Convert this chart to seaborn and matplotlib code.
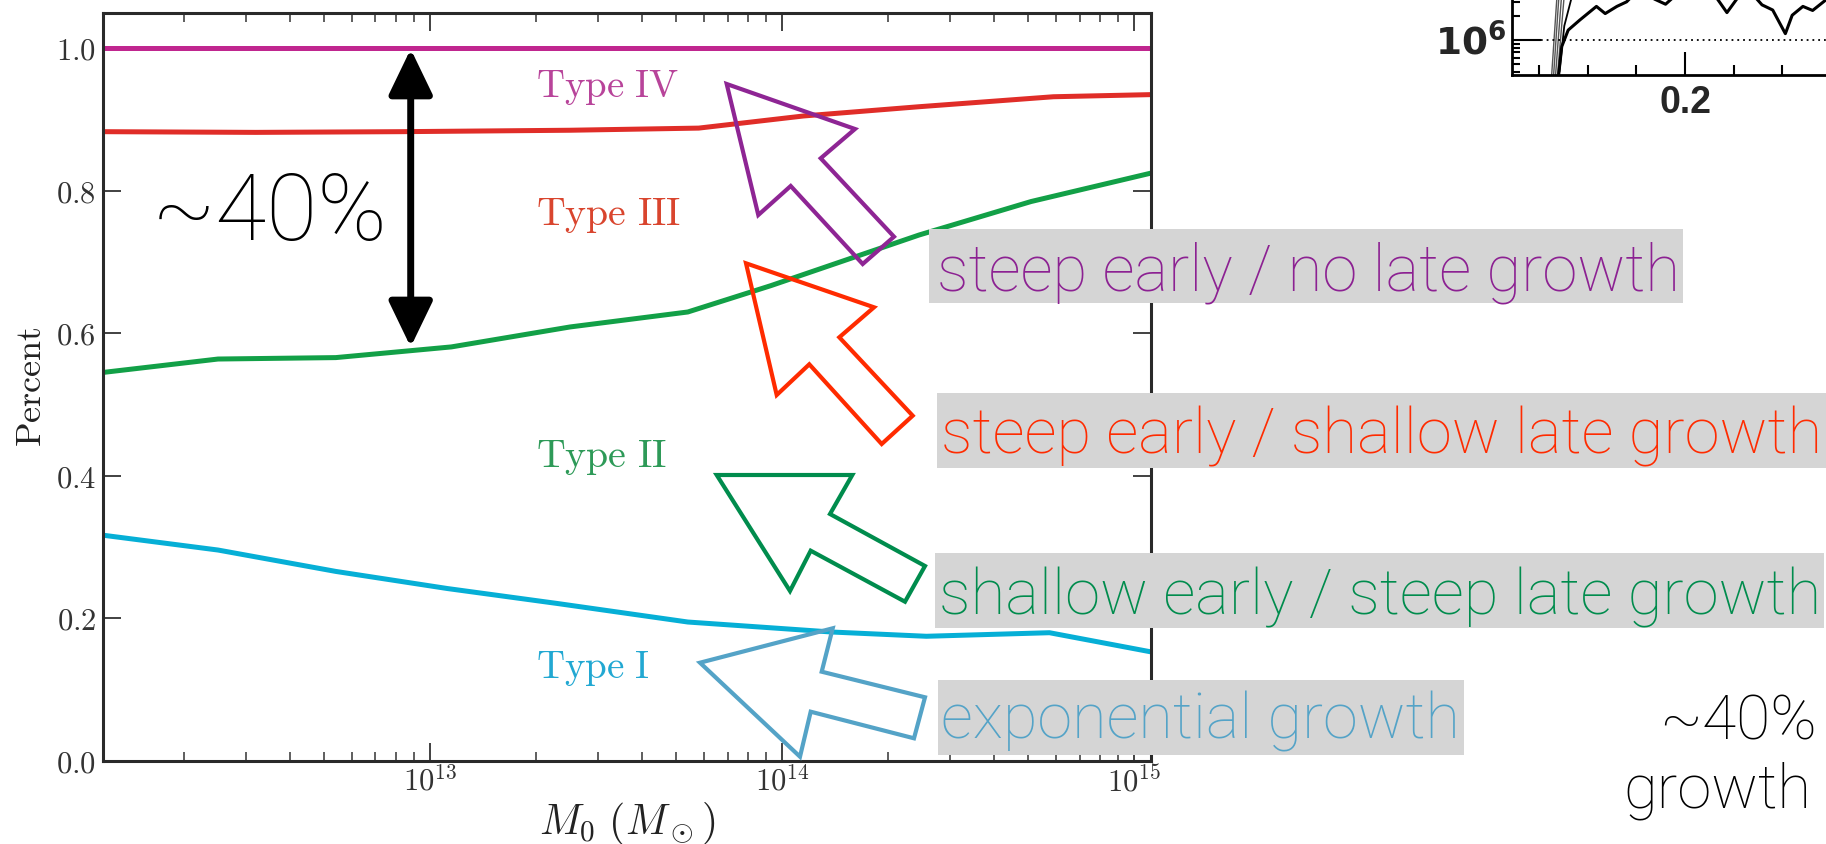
import numpy as np
import pandas as pd
import matplotlib
matplotlib.use("Agg")
import matplotlib.pyplot as plt
import seaborn as sns
from matplotlib.patches import Polygon, Rectangle, FancyArrowPatch
from matplotlib.ticker import FixedLocator, FixedFormatter, LogLocator, NullFormatter, NullLocator, MultipleLocator

# ---------------- data ----------------
# halo mass M0 (Msun) and cumulative fraction boundaries
typeI_M = [1.17e12, 2.5e12, 5.4e12, 1.12e13, 2.3e13, 5.4e13, 1.38e14, 2.57e14, 5.75e14, 1.12e15]
typeI_frac = [0.317, 0.296, 0.266, 0.242, 0.221, 0.195, 0.181, 0.175, 0.180, 0.153]

typeII_M = [1.17e12, 2.5e12, 5.4e12, 1.15e13, 2.5e13, 5.4e13, 9.3e13, 2.45e14, 5.1e14, 1.12e15]
typeII_frac = [0.545, 0.564, 0.566, 0.581, 0.609, 0.630, 0.667, 0.738, 0.785, 0.825]

typeIII_M = [1.17e12, 3.2e12, 8.3e12, 2.5e13, 5.8e13, 1.15e14, 2.45e14, 5.9e14, 1.12e15]
typeIII_frac = [0.883, 0.882, 0.883, 0.885, 0.888, 0.905, 0.918, 0.932, 0.935]

typeIV_M = [1.17e12, 1.12e15]
typeIV_frac = [1.0, 1.0]

type_labels = ["Type IV", "Type III", "Type II", "Type I"]
y_ticks = [0.0, 0.2, 0.4, 0.6, 0.8, 1.0]
y_ticklabels = [r"$0.0$", r"$0.2$", r"$0.4$", r"$0.6$", r"$0.8$", r"$1.0$"]
x_ticks = [1e13, 1e14, 1e15]
x_ticklabels = [r"$10^{13}$", r"$10^{14}$", r"$10^{15}$"]

growth_labels = ["steep early / no late growth",
                 "steep early / shallow late growth",
                 "shallow early / steep late growth",
                 "exponential growth"]

# fragment of a second plot (top right corner)
frag_x = [0.070, 0.0734, 0.080, 0.092, 0.109, 0.118, 0.130, 0.140, 0.150, 0.165, 0.180, 0.190,
          0.205, 0.215, 0.230, 0.243, 0.255, 0.268, 0.279, 0.290, 0.303, 0.310, 0.321, 0.331, 0.345, 0.360]
frag_y = [3.5e5, 8.3e5, 1.33e6, 1.78e6, 2.63e6, 2.14e6, 2.63e6, 3.0e6, 4.0e6, 3.4e6, 2.8e6, 3.6e6,
          3.9e6, 3.3e6, 3.7e6, 2.2e6, 3.5e6, 3.9e6, 2.75e6, 2.37e6, 1.2e6, 2.04e6, 2.63e6, 2.34e6, 3.2e6, 2.9e6]
frag_gray_x = [[0.063, 0.071], [0.065, 0.073], [0.067, 0.076], [0.069, 0.079]]
frag_gray_y = [[3.6e5, 1e7], [3.6e5, 1e7], [3.6e5, 1e7], [3.6e5, 1e7]]
frag_thin_x = [0.071, 0.076, 0.083, 0.092]
frag_thin_y = [4.0e5, 1.5e6, 3.2e6, 8e6]

# ---------------- figure ----------------
W, H = 1826, 844
sns.set_style("ticks")
plt.rcParams["font.family"] = ["DejaVu Sans"]
plt.rcParams["mathtext.fontset"] = "cm"

fig = plt.figure(figsize=(W / 100, H / 100), dpi=100)
fig.patch.set_facecolor("white")


def F(x, y):
    return (x / W, 1 - y / H)


ax = fig.add_axes([103 / W, 1 - 761 / H, (1151 - 103) / W, (761 - 13) / H])

line_colors = {"IV": "#c0268f", "III": "#e02d28", "II": "#12a047", "I": "#06afd6"}
df = pd.concat([
    pd.DataFrame({"M": typeIV_M, "frac": typeIV_frac, "s": "IV"}),
    pd.DataFrame({"M": typeIII_M, "frac": typeIII_frac, "s": "III"}),
    pd.DataFrame({"M": typeII_M, "frac": typeII_frac, "s": "II"}),
    pd.DataFrame({"M": typeI_M, "frac": typeI_frac, "s": "I"}),
])
sns.lineplot(data=df, x="M", y="frac", hue="s", palette=line_colors, ax=ax,
             legend=False, linewidth=3.6, estimator=None, sort=False)
ax.set_xscale("log")
ax.set_xlim(1.178e12, 1.117e15)
ax.set_ylim(0, 1.0495)

ax.xaxis.set_major_locator(FixedLocator(x_ticks))
ax.xaxis.set_major_formatter(FixedFormatter(x_ticklabels))
ax.xaxis.set_minor_locator(LogLocator(base=10, subs=range(2, 10)))
ax.xaxis.set_minor_formatter(NullFormatter())
ax.yaxis.set_major_locator(FixedLocator(y_ticks))
ax.yaxis.set_major_formatter(FixedFormatter(y_ticklabels))
ax.yaxis.set_minor_locator(NullLocator())

ax.tick_params(which="both", direction="in", top=True, right=True, color="#333333",
               labelcolor="#333333")
ax.tick_params(which="major", length=13, width=1.3, labelsize=22)
ax.tick_params(axis="y", which="major", pad=5)
ax.tick_params(axis="x", which="major", pad=3)
ax.tick_params(which="minor", length=6.5, width=1.1)
for sp in ax.spines.values():
    sp.set_linewidth(2.2)
    sp.set_color("#2a2a2a")
    sp.set_visible(True)

ax.set_xlabel(r"$M_0\ (M_\odot)$", fontsize=30, color="#222222", labelpad=2)
ax.set_ylabel(r"$\mathrm{Percent}$", fontsize=26, color="#222222", labelpad=6)

# Type labels (serif, coloured)
type_colors = ["#b8449a", "#d9452e", "#2e9a58", "#22a8d2"]
type_base = [97, 225, 467, 678]
type_w = [143, 145, 131, 114]
type_texts = []
for lab, c, yb in zip(type_labels, type_colors, type_base):
    t = fig.text(*F(536, yb), r"$\mathrm{" + lab.replace(" ", r"\ ") + "}$", color=c,
                 fontsize=29, ha="left", va="baseline")
    type_texts.append(t)

# ---------------- annotations ----------------
# double-headed black arrow
dbl = FancyArrowPatch(F(410.7, 49), F(410.7, 347), transform=fig.transFigure,
                      arrowstyle="<|-|>,head_length=28,head_width=13.5", mutation_scale=1,
                      color="black", linewidth=5, shrinkA=0, shrinkB=0)
fig.add_artist(dbl)

big40 = fig.text(*F(152, 240), "~40%", fontsize=68, family="Roboto", weight="light",
                 color="black", ha="left", va="baseline")

# grey label boxes
box_specs = [(929, 229, 1683, 303), (937, 393, 1826, 468), (935, 553, 1824, 628), (938, 680, 1464, 755)]
for (x0, y0, x1, y1) in box_specs:
    fig.add_artist(Rectangle(F(x0, y1), (x1 - x0) / W, (y1 - y0) / H, transform=fig.transFigure,
                             facecolor="#d5d5d5", edgecolor="none", zorder=2))

lab_colors = ["#8c2192", "#ff2b00", "#008c4d", "#54a3c7"]
lab_pos = [(937, 290), (941, 454), (939, 614), (941, 738)]
lab_w = [743, 880, 882, 519]
lab_texts = []
for s, c, (x, y) in zip(growth_labels, lab_colors, lab_pos):
    t = fig.text(*F(x, y), s, color=c, fontsize=45, family="Roboto", weight="light",
                 ha="left", va="baseline", zorder=3)
    lab_texts.append(t)

g40 = fig.text(*F(1817, 740), "~40%", fontsize=45, family="Roboto", weight="light",
               color="black", ha="right", va="baseline")
ggr = fig.text(*F(1811, 807), "growth", fontsize=45, family="Roboto", weight="light",
               color="black", ha="right", va="baseline")

# hollow arrows
arrow_polys = {
    "#8e2594": [(726.7, 84), (855, 129), (820.7, 158.3), (894, 236.7), (862.7, 264), (790.7, 186), (758.3, 215)],
    "#ff2b00": [(746, 263.3), (874, 307.3), (839.3, 337.3), (912.7, 415.7), (881.7, 444), (809.3, 364.3), (776.7, 395)],
    "#008c4d": [(716.7, 475), (852.3, 475), (830, 514), (925, 566), (905, 601.7), (810.7, 550.7), (790, 591)],
    "#54a3c7": [(832.7, 628.3), (821.7, 671.7), (925, 697.3), (914, 738.3), (810.7, 711.7), (800, 756.7), (700, 662.7)],
}
for c, pts in arrow_polys.items():
    fig.add_artist(Polygon([F(x, y) for x, y in pts], closed=True, transform=fig.transFigure,
                           fill=False, edgecolor=c, linewidth=3.0, joinstyle="miter", zorder=4))

# ---------------- fragment of another plot (top right) ----------------
ax2 = fig.add_axes([1511.7 / W, 1 - 75 / H, (1900 - 1511.7) / W, 115 / H])
ax2.set_facecolor("none")
for gx, gy in zip(frag_gray_x, frag_gray_y):
    ax2.plot(gx, gy, color="#555555", lw=1.0)
sns.lineplot(x=frag_thin_x, y=frag_thin_y, ax=ax2, color="black", lw=1.3, estimator=None, sort=False)
sns.lineplot(x=frag_x, y=frag_y, ax=ax2, color="black", lw=2.2, estimator=None, sort=False)
ax2.axhline(1e6, color="black", lw=1.3, ls=(0, (1, 2.2)))
ax2.set_yscale("log")
ax2.set_xlim(0.022, 0.4207)
ax2.set_ylim(10 ** 5.5625, 1e7)
ax2.xaxis.set_major_locator(FixedLocator([0.2]))
ax2.xaxis.set_major_formatter(FixedFormatter(["0.2"]))
ax2.xaxis.set_minor_locator(MultipleLocator(0.05))
ax2.yaxis.set_major_locator(FixedLocator([1e6]))
ax2.yaxis.set_major_formatter(FixedFormatter([r"$\mathbf{10^{6}}$"]))
ax2.yaxis.set_minor_locator(LogLocator(base=10, subs=range(2, 10)))
ax2.yaxis.set_minor_formatter(NullFormatter())
for lab in ax2.get_yticklabels():
    lab.set_math_fontfamily("dejavusans")
ax2.tick_params(which="both", direction="in", color="black", width=1.5)
ax2.tick_params(axis="x", which="major", length=16.5, pad=7, labelsize=27)
ax2.tick_params(axis="x", which="minor", length=7)
ax2.tick_params(axis="y", which="major", length=21, pad=4, labelsize=27)
ax2.tick_params(axis="y", which="minor", length=6)
for lab in ax2.get_xticklabels():
    lab.set_fontweight("bold")
    lab.set_family("Liberation Sans")
ax2.spines["top"].set_visible(False)
ax2.spines["right"].set_visible(False)
for s in ("left", "bottom"):
    ax2.spines[s].set_linewidth(2.0)
    ax2.spines[s].set_color("black")
ax2.set_xlabel("")
ax2.set_ylabel("")

# ---------------- fit text widths to the reference ----------------
fig.canvas.draw()
r = fig.canvas.get_renderer()


def fit(t, target):
    w = t.get_window_extent(r).width
    t.set_fontsize(t.get_fontsize() * target / w)


for t, w in zip(lab_texts, lab_w):
    fit(t, w)
for t, w in zip(type_texts, type_w):
    fit(t, w)
fit(big40, 236)
fit(g40, 158)
fit(ggr, 188)

fig.savefig("out.png", dpi=100)
